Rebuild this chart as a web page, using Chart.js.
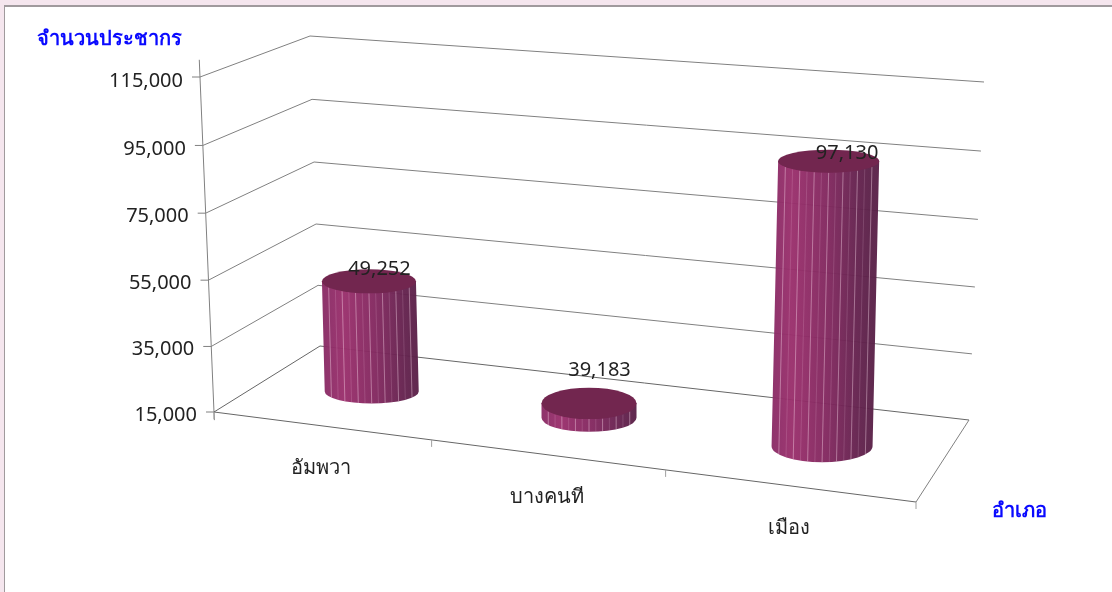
<!DOCTYPE html>
<html>
<head>
<meta charset="utf-8">
<title>จำนวนประชากร</title>
<script src="https://cdn.jsdelivr.net/npm/chart.js@4"></script>
<style>
html, body { margin: 0; padding: 0; width: 1112px; height: 592px; overflow: hidden; background: #f5e6ee; }
#sheet { position: absolute; left: 4px; top: 5px; width: 1108px; height: 587px; box-sizing: border-box; background: #fff; border-left: 1px solid #a09a9d; border-top: 2px solid #a09a9d; }
#chart-canvas { position: absolute; left: 0; top: 0; }
</style>
</head>
<body>
<div id="sheet"></div>
<canvas id="chart-canvas" width="1112" height="592"></canvas>
<script>
const categories = ["อัมพวา", "บางคนที", "เมือง"];
// heights as drawn in the picture, the middle cylinder is far shorter than its printed label says
const barValues = [49252, 19400, 97130];
const valueLabels = ["49,252", "39,183", "97,130"];
const yMin = 15000;
const yMax = 115000;
const yStep = 20000;
const yTitle = "จำนวนประชากร";
const xTitle = "อำเภอ";

const FONT = '"Noto Sans", sans-serif';
const GRID = "#808080";
const EDGE = "#666666";
const TEXT = "#222222";
const BLUE = "#0a0aff";

// box corners on the page: f/b front/back, l/r left/right, 0/1 floor/top
const box = {
    fl0: [214, 412], fr0: [916, 502], bl0: [320, 346], br0: [969, 420],
    fl1: [200, 77], fr1: [926, 131], bl1: [310, 36], br1: [984, 82]
};
const cylinders = [
    { rx: 47, ryTop: 12, ryBase: 12, labelX: 10.5, labelY: -12 },
    { rx: 47.5, ryTop: 15.7, ryBase: 14, labelX: 10.5, labelY: -33.5 },
    { rx: 50.5, ryTop: 11.5, ryBase: 16, labelX: 18.5, labelY: -7.5 }
];
const CYL_SHIFT = 2;

function mix(a, b, t) {
    return [a[0] + (b[0] - a[0]) * t, a[1] + (b[1] - a[1]) * t];
}

// u across the floor, d front to back, f floor to top, all 0..1
function project(u, d, f) {
    var w = u * (0.895 + 0.105 * u);
    var h = f * (1 - 0.027 * (1 - f));
    var front = mix(mix(box.fl0, box.fr0, w), mix(box.fl1, box.fr1, w), h);
    var back = mix(mix(box.bl0, box.br0, w), mix(box.bl1, box.br1, w), h);
    return mix(front, back, d);
}

function line(ctx, a, b, color) {
    ctx.strokeStyle = color;
    ctx.lineWidth = 1;
    ctx.beginPath();
    ctx.moveTo(a[0], a[1]);
    ctx.lineTo(b[0], b[1]);
    ctx.stroke();
}

function text(ctx, str, x, y, align, font, color) {
    ctx.font = font;
    ctx.fillStyle = color;
    ctx.textAlign = align;
    ctx.textBaseline = "middle";
    ctx.fillText(str, x, y);
}

function valueFraction(scale, value) {
    return (scale.bottom - scale.getPixelForValue(value)) / (scale.bottom - scale.top);
}

function drawFrame(chart) {
    var ctx = chart.ctx;
    var y = chart.scales.y;
    // left axis runs a little past both ends
    line(ctx, project(0, 0, 1.05), project(0, 0, -0.025), GRID);
    y.ticks.forEach(function (tick) {
        var f = valueFraction(y, tick.value);
        var front = project(0, 0, f);
        var back = project(0, 1, f);
        var right = project(1, 1, f);
        line(ctx, [front[0] - 8, front[1]], front, GRID);
        line(ctx, front, back, f == 0 ? EDGE : GRID);
        line(ctx, back, right, f == 0 ? EDGE : GRID);
        text(ctx, tick.value.toLocaleString("en-US"), front[0] - 17, front[1] + 3 + f, "right", "20px " + FONT, TEXT);
    });
    line(ctx, project(0, 0, 0), project(1, 0, 0), EDGE);
    line(ctx, project(1, 0, 0), project(1, 1, 0), GRID);
    for (var i = 0; i <= categories.length; i++) {
        var p = project(i / categories.length, 0, 0);
        line(ctx, p, [p[0], p[1] + 7], "#a0a0a0");
    }
    categories.forEach(function (name, i) {
        var p = project((i + 0.5) / categories.length, 0, 0);
        text(ctx, name, p[0], p[1] + 42.5, "center", "20px " + FONT, TEXT);
    });
    text(ctx, yTitle, 109.5, 39, "center", "bold 20px " + FONT, BLUE);
    text(ctx, xTitle, 1019, 511.5, "center", "bold 20px " + FONT, BLUE);
}

function drawCylinder(ctx, top, base, shape) {
    var rx = shape.rx;
    var grad = ctx.createLinearGradient(base[0] - rx, 0, base[0] + rx, 0);
    grad.addColorStop(0, "#8a2c66");
    grad.addColorStop(0.2, "#9a2f6c");
    grad.addColorStop(0.55, "#82285f");
    grad.addColorStop(0.85, "#64224e");
    grad.addColorStop(1, "#5a2148");

    ctx.save();
    ctx.globalAlpha = 0.96;
    ctx.beginPath();
    ctx.moveTo(top[0] - rx, top[1]);
    ctx.lineTo(base[0] - rx, base[1]);
    ctx.ellipse(base[0], base[1], rx, shape.ryBase, 0, Math.PI, 0, true);
    ctx.lineTo(top[0] + rx, top[1]);
    ctx.closePath();
    ctx.fillStyle = grad;
    ctx.fill();
    ctx.clip();
    // pale facet lines down the front
    var n = 14;
    for (var i = 1; i < n; i++) {
        var k = (i / n) * 2 - 1;
        var s = Math.sqrt(1 - k * k);
        ctx.strokeStyle = i % 2 ? "rgba(255,225,240,0.42)" : "rgba(255,225,240,0.16)";
        ctx.lineWidth = 1;
        ctx.beginPath();
        ctx.moveTo(top[0] + k * rx, top[1] + shape.ryTop * s);
        ctx.lineTo(base[0] + k * rx, base[1] + shape.ryBase * s);
        ctx.stroke();
    }
    ctx.restore();

    ctx.beginPath();
    ctx.ellipse(top[0], top[1], rx, shape.ryTop, 0, 0, Math.PI * 2);
    ctx.fillStyle = "#72264f";
    ctx.fill();
}

const box3d = {
    id: "box3d",
    beforeDatasetsDraw: function (chart) {
        drawFrame(chart);
    },
    afterDatasetsDraw: function (chart) {
        var ctx = chart.ctx;
        var xs = chart.scales.x;
        var ys = chart.scales.y;
        // the flat bars give the positions, the cylinders are their projection
        var bars = chart.getDatasetMeta(0).data;
        var tops = bars.map(function (bar, i) {
            var u = (bar.x - xs.left) / (xs.right - xs.left);
            var f = (ys.bottom - bar.y) / (ys.bottom - ys.top);
            var top = project(u, 0.5, f);
            var base = project(u, 0.5, 0);
            top[0] += CYL_SHIFT;
            base[0] += CYL_SHIFT;
            drawCylinder(ctx, top, base, cylinders[i]);
            return top;
        });
        tops.forEach(function (top, i) {
            var s = cylinders[i];
            text(ctx, valueLabels[i], top[0] + s.labelX, top[1] + s.labelY, "center", "20px " + FONT, TEXT);
        });
    }
};

new Chart(document.getElementById("chart-canvas"), {
    type: "bar",
    data: {
        labels: categories,
        datasets: [{
            label: yTitle,
            data: barValues,
            backgroundColor: "rgba(0,0,0,0)",
            borderWidth: 0
        }]
    },
    options: {
        responsive: false,
        animation: false,
        events: [],
        plugins: { legend: { display: false }, tooltip: { enabled: false } },
        scales: {
            x: { display: false },
            y: { display: false, min: yMin, max: yMax, ticks: { stepSize: yStep } }
        }
    },
    plugins: [box3d]
});
</script>
</body>
</html>
